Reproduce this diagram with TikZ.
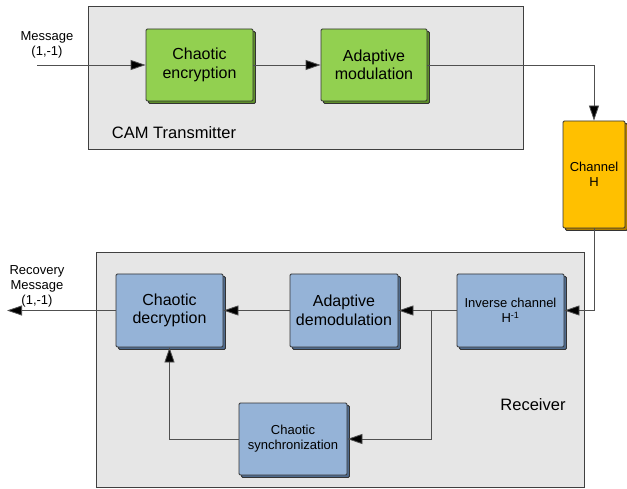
\documentclass[tikz,border=0pt]{standalone}
\usepackage{fontspec}
\setmainfont{Liberation Sans}
\usetikzlibrary{arrows.meta,shadows}
\definecolor{bggray}{HTML}{E6E6E6}
\definecolor{green1}{HTML}{92D050}
\definecolor{green2}{HTML}{5E8F2A}
\definecolor{blue1}{HTML}{95B3D7}
\definecolor{blue2}{HTML}{4F6A8C}
\definecolor{orange1}{HTML}{FFC000}
\definecolor{orange2}{HTML}{B07E00}
\definecolor{linegray}{HTML}{505050}
\tikzset{
  blk/.style={draw=black!80, line width=0.8pt, rounded corners=1.2pt, align=center, inner sep=1pt,
    font=\fontsize{16}{18.5}\selectfont},
  greenblk/.style={blk, fill=green1, copy shadow={shadow xshift=2.5pt, shadow yshift=-2.5pt, fill=green2, draw=black!80}},
  blueblk/.style={blk, fill=blue1, copy shadow={shadow xshift=2.5pt, shadow yshift=-2.5pt, fill=blue2, draw=black!80}},
  orangeblk/.style={blk, fill=orange1, copy shadow={shadow xshift=2.5pt, shadow yshift=-2.5pt, fill=orange2, draw=black!80}},
  smalltxt/.style={font=\fontsize{13}{15}\selectfont},
  panel/.style={draw=black!75, line width=0.8pt, fill=bggray},
  conn/.style={draw=linegray, line width=0.8pt},
  arr/.style={conn, -{Triangle[length=15pt, width=10pt, fill=black]}},
  lbl/.style={align=center, inner sep=0pt},
}
\begin{document}
\begin{tikzpicture}[x=1pt, y=-1pt]
\useasboundingbox (0,0) rectangle (627,489);
% panels
\draw[panel] (88,6) rectangle (523,149);
\draw[panel] (96,252) rectangle (584,487);
\node[lbl, font=\fontsize{16.5}{18}\selectfont] (camlbl) at (174,133) {CAM Transmitter};
\node[lbl, font=\fontsize{16.5}{18}\selectfont] (rcvlbl) at (533,405) {Receiver};
% blocks
\node[greenblk, minimum width=107pt, minimum height=72pt] (enc) at (199.5,65) {Chaotic\\encryption};
\node[greenblk, minimum width=106pt, minimum height=72pt] (mod) at (374,65) {Adaptive\\modulation};
\node[orangeblk, smalltxt, minimum width=62pt, minimum height=107pt] (chan) at (594,174.5) {Channel\\H};
\node[blueblk, smalltxt, minimum width=107pt, minimum height=73pt] (inv) at (510.5,310.5) {Inverse channel\\H\textsuperscript{-1}};
\node[blueblk, minimum width=108pt, minimum height=73pt] (demod) at (344,310.5) {Adaptive\\demodulation};
\node[blueblk, minimum width=107pt, minimum height=73pt] (dec) at (169.5,310.5) {Chaotic\\decryption};
\node[blueblk, smalltxt, minimum width=108pt, minimum height=72pt] (sync) at (293,439) {Chaotic\\synchronization};
% labels
\node[lbl, smalltxt] (msg) at (47,45) {Message\\(1,-1)};
\node[lbl, smalltxt] (rmsg) at (37,286) {Recovery\\Message\\(1,-1)};
% coordinates
\coordinate (in) at (37,65);
\coordinate (out) at (7,310.5);
\coordinate (br) at (431,310.5);
% connectors
\draw[arr] (in) -- (enc.west);
\draw[arr] (enc.east) -- (mod.west);
\draw[arr] (mod.east) -| (chan.north);
\draw[arr] (chan.south) |- (inv.east);
\draw[arr] (inv.west) -- (demod.east);
\draw[arr] (demod.west) -- (dec.east);
\draw[arr] (dec.west) -- (out);
\draw[arr] (br) |- (sync.east);
\draw[arr] (sync.west) -| (dec.south);
\end{tikzpicture}
\end{document}
